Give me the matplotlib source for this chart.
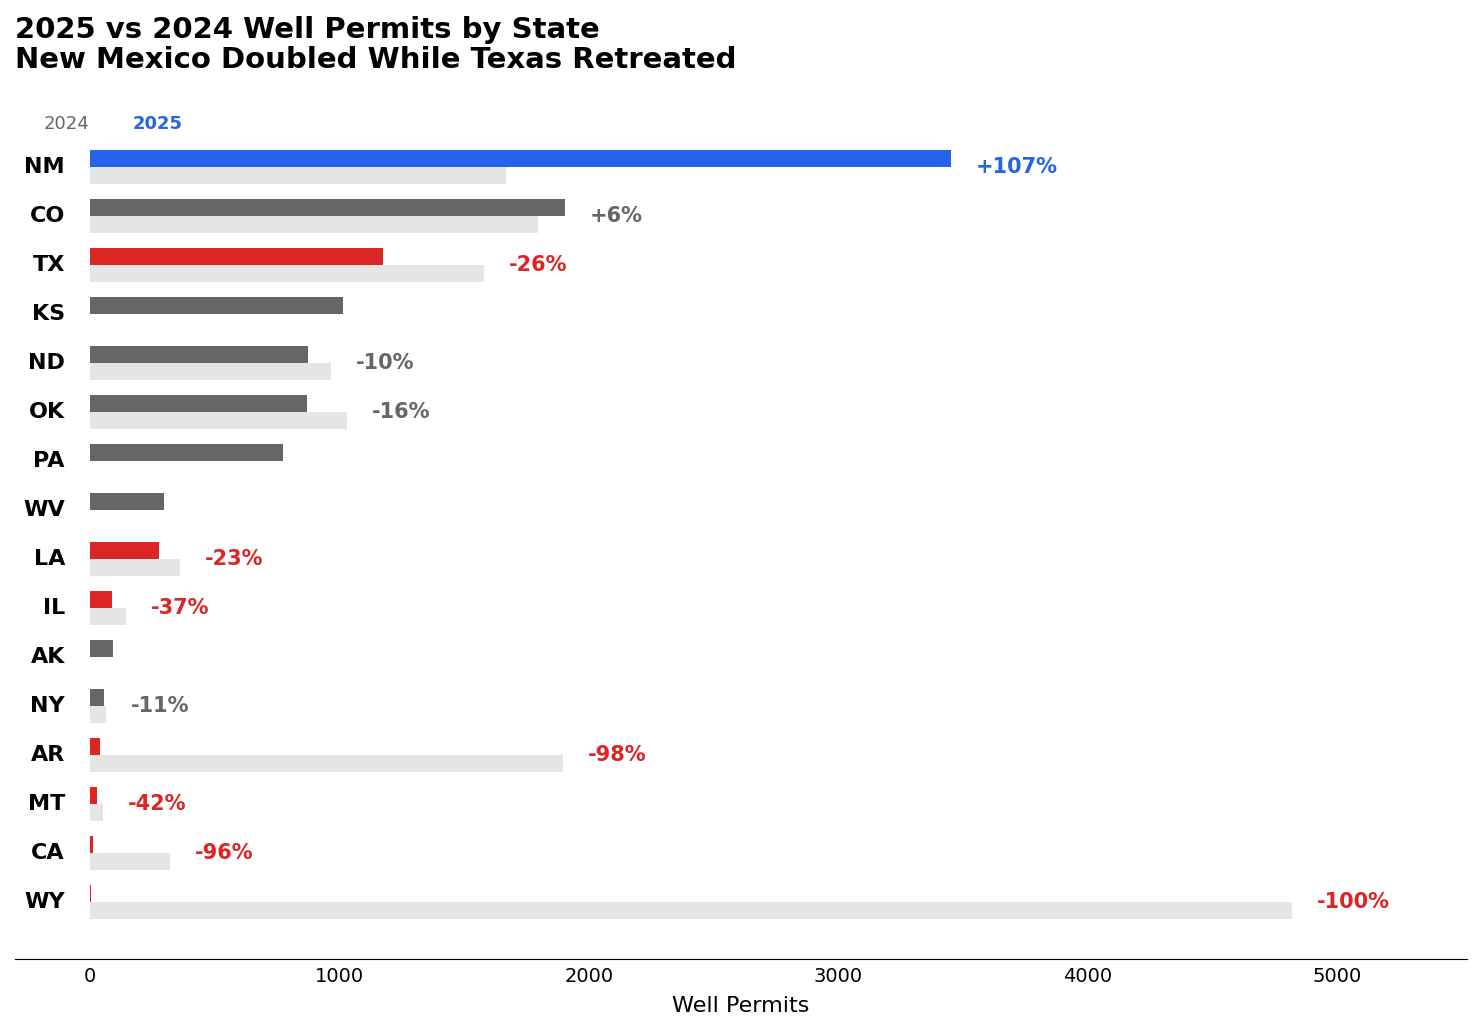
import numpy as np
import matplotlib
matplotlib.use('Agg')
from matplotlib import pyplot as plt

# Permit counts (2024 = 0 where no prior-year bar)
states = ['NM', 'CO', 'TX', 'KS', 'ND', 'OK', 'PA', 'WV',
          'LA', 'IL', 'AK', 'NY', 'AR', 'MT', 'CA', 'WY']
permits_2025 = [3452, 1905, 1175, 1014, 874, 870, 774, 297,
                277, 90, 92, 57, 40, 30, 12, 6]
permits_2024 = [1668, 1796, 1580, 0, 966, 1030, 0, 0,
                361, 143, 0, 64, 1897, 52, 321, 4820]

BLUE = '#2563eb'
RED = '#dc2626'
GRAY = '#666666'
LIGHT = '#e5e5e5'


def pick_color(pct):
    if pct is None:
        return GRAY
    if pct >= 50:
        return BLUE
    if pct <= -20:
        return RED
    return GRAY


fig = plt.figure(figsize=(14.82, 10.33), dpi=100)
ax = fig.add_axes([15 / 1482, 74 / 1033, 1452 / 1482, 849 / 1033])

h = 0.35

for i, (s, v25, v24) in enumerate(zip(states, permits_2025, permits_2024)):
    pct = None
    if v24 > 0:
        pct = (v25 - v24) / v24 * 100
    c = pick_color(pct)
    ax.barh(i - h / 2, v25, height=h, color=c)
    if v24 > 0:
        ax.barh(i + h / 2, v24, height=h, color=LIGHT)
        ax.text(max(v25, v24) + 100, i, '{:+.0f}%'.format(pct), color=c,
                fontsize=15, fontweight='bold', va='center', ha='left')
    ax.text(-100, i, s, fontsize=16, fontweight='bold', va='center', ha='right')

# Legend-style labels above the bars
ax.text(0, -0.875, '2024', color=GRAY, fontsize=13, va='center', ha='right')
ax.text(170, -0.875, '2025', color=BLUE, fontsize=13, fontweight='bold',
        va='center', ha='left')

ax.set_xlim(-300, 5520)
ax.set_ylim(16.16, -1.16)
ax.set_yticks([])
ax.set_xticks([0, 1000, 2000, 3000, 4000, 5000])
ax.tick_params(axis='x', length=0, labelsize=14, pad=6)
ax.set_xlabel('Well Permits', fontsize=16, labelpad=7)
for sp in ['top', 'right', 'left']:
    ax.spines[sp].set_visible(False)

fig.text(15 / 1482, 1 - 16 / 1033,
         '2025 vs 2024 Well Permits by State\nNew Mexico Doubled While Texas Retreated',
         fontsize=21, fontweight='bold', va='top', ha='left', linespacing=1.1)

plt.savefig('out.png', dpi=100)
